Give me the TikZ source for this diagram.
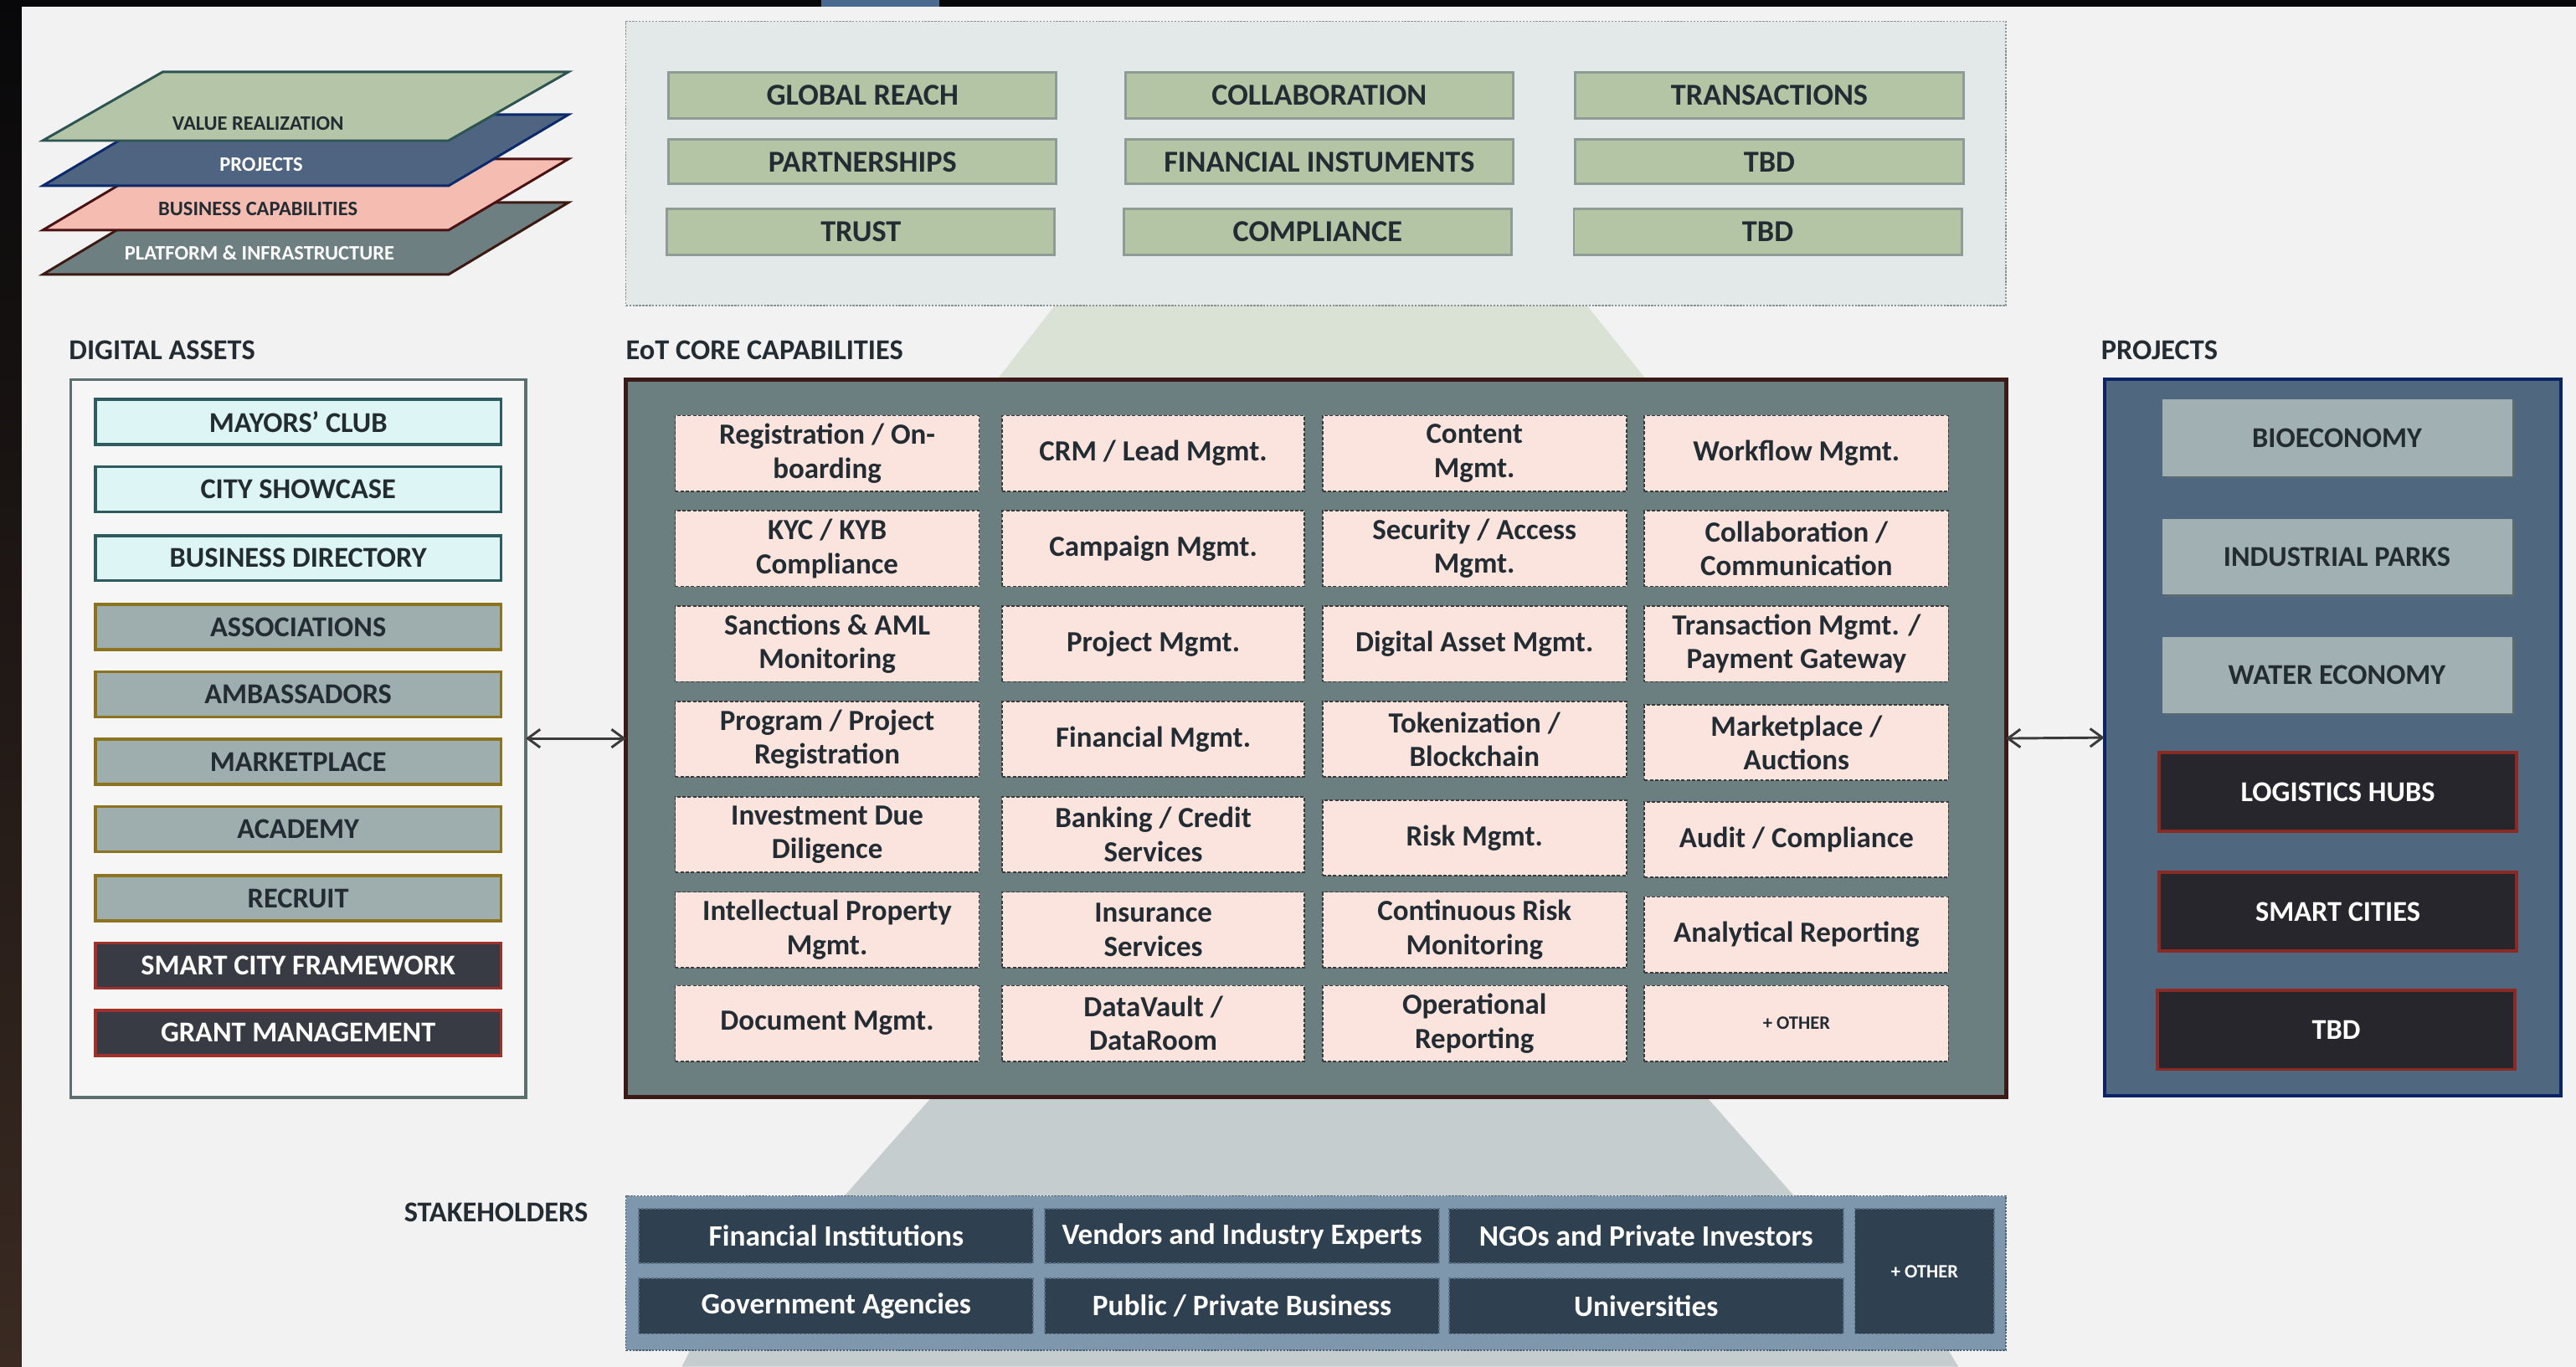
\documentclass[tikz,border=0pt]{standalone}
\usepackage{fontspec}
\setmainfont{Carlito}
\usetikzlibrary{arrows.meta,shadows}
\newcommand\fs[2]{\fontsize{#1}{#2}\selectfont}
\definecolor{bgl}{HTML}{F3F2F2}
\definecolor{darka}{HTML}{08080A}
\definecolor{darkb}{HTML}{3A2A22}
\definecolor{topblue}{HTML}{4A6A90}
\definecolor{txtd}{HTML}{232C33}
\definecolor{vrfill}{HTML}{B4C6A7}
\definecolor{vrdraw}{HTML}{2E5452}
\definecolor{prfill}{HTML}{4F6480}
\definecolor{prdraw}{HTML}{0B2A6B}
\definecolor{bcfill}{HTML}{F5BDB2}
\definecolor{bcdraw}{HTML}{4A1212}
\definecolor{plfill}{HTML}{6D7F80}
\definecolor{pldraw}{HTML}{3C1A14}
\definecolor{topfill}{HTML}{E3E8E8}
\definecolor{topdash}{HTML}{8A9292}
\definecolor{gfill}{HTML}{B4C5A6}
\definecolor{gdraw}{HTML}{8F9C95}
\definecolor{trapg}{HTML}{D9E2D5}
\definecolor{trapb}{HTML}{C5CDCE}
\definecolor{dafill}{HTML}{F6F6F6}
\definecolor{dadraw}{HTML}{5C6E6E}
\definecolor{cyfill}{HTML}{DDF5F5}
\definecolor{cydraw}{HTML}{2E5B5E}
\definecolor{gyfill}{HTML}{9EADAE}
\definecolor{gydraw}{HTML}{8B7320}
\definecolor{dkfill}{HTML}{383B43}
\definecolor{rddraw}{HTML}{A0302A}
\definecolor{corefill}{HTML}{6B7E80}
\definecolor{coredraw}{HTML}{3B1A18}
\definecolor{cellfill}{HTML}{FCE4DE}
\definecolor{celldash}{HTML}{3A3A3A}
\definecolor{pjfill}{HTML}{506780}
\definecolor{pjdraw}{HTML}{0B2466}
\definecolor{ltfill}{HTML}{A1B0B3}
\definecolor{ltshadow}{HTML}{5E6B6E}
\definecolor{pjdark}{HTML}{26262C}
\definecolor{pjred}{HTML}{8B2A22}
\definecolor{stfill}{HTML}{7F97AD}
\definecolor{stdash}{HTML}{4C6378}
\definecolor{stcell}{HTML}{2F4050}
\definecolor{stcelld}{HTML}{5A7085}
\definecolor{arrowc}{HTML}{3A3A3A}
\newcommand\bx[7]{%
  \pgfmathsetmacro\cxv{(#2+#4)/2}\pgfmathsetmacro\cyv{(#3+#5)/2}%
  \pgfmathsetmacro\wv{#4-#2}\pgfmathsetmacro\hv{#5-#3}%
  \node[#6, minimum width=\wv pt, minimum height=\hv pt] (#1) at (\cxv,\cyv) {#7};}
\tikzset{
  every node/.style={inner sep=0pt, outer sep=0pt},
  lbl/.style={anchor=west, text=txtd, font=\bfseries\fs{17.5}{20}},
  laytxt/.style={font=\bfseries\fs{12.5}{14}},
  topbox/.style={fill=topfill, draw=topdash, line width=0.8pt, dash pattern=on 1.2pt off 0.8pt},
  gbox/.style={fill=gfill, draw=gdraw, line width=1.5pt, text=txtd, font=\bfseries\fs{18.5}{21}},
  dabox/.style={fill=dafill, draw=dadraw, line width=1.8pt},
  cybox/.style={fill=cyfill, draw=cydraw, line width=1.8pt, text=txtd, font=\bfseries\fs{17.5}{20}},
  gybox/.style={fill=gyfill, draw=gydraw, line width=1.8pt, text=txtd, font=\bfseries\fs{17.5}{20}},
  dkbox/.style={fill=dkfill, draw=rddraw, line width=1.8pt, text=white, font=\bfseries\fs{17.5}{20}},
  corebox/.style={fill=corefill, draw=coredraw, line width=2.5pt},
  cell/.style={fill=cellfill, draw=celldash, line width=0.9pt, dash pattern=on 2pt off 1.2pt, text=txtd, align=center, font=\bfseries\fs{17.8}{20.5}},
  pjbox/.style={fill=pjfill, draw=pjdraw, line width=2pt},
  ltbox/.style={fill=ltfill, text=txtd, font=\bfseries\fs{17.5}{20}, drop shadow={shadow xshift=1.8pt, shadow yshift=-1.2pt, opacity=1, fill=ltshadow}},
  pdbox/.style={fill=pjdark, draw=pjred, line width=2pt, text=white, font=\bfseries\fs{17.5}{20}},
  stbox/.style={fill=stfill, draw=stdash, line width=0.8pt, dash pattern=on 1.2pt off 0.8pt},
  stc/.style={fill=stcell, draw=stcelld, line width=0.9pt, dash pattern=on 1.5pt off 1pt, text=white, align=center, font=\bfseries\fs{18}{20.5}},
  dblarrow/.style={draw=arrowc, line width=1.5pt, {Straight Barb[length=7.5pt,width=11pt]}-{Straight Barb[length=7.5pt,width=11pt]}},
}
\begin{document}
\begin{tikzpicture}[x=1pt,y=-1pt]
\useasboundingbox (0,0) rectangle (1568,832);
% background
\shade[top color=darka, bottom color=darkb] (0,0) rectangle (1568,832);
\fill[bgl] (13,4) rectangle (1568,832);
\fill[topblue] (500,0) rectangle (572,4);
% layers (bottom first)
\draw[fill=plfill, draw=pldraw, line width=1.5pt] (26,167.1) -- (99,123.3) -- (346,123.3) -- (273,167.1) -- cycle;
\draw[fill=bcfill, draw=bcdraw, line width=1.5pt] (26,140.1) -- (99,96.8) -- (346,96.8) -- (273,140.1) -- cycle;
\draw[fill=prfill, draw=prdraw, line width=1.5pt] (26,113.1) -- (99,69.8) -- (346,69.8) -- (273,113.1) -- cycle;
\draw[fill=vrfill, draw=vrdraw, line width=1.5pt] (26,85.6) -- (99,43.8) -- (346,43.8) -- (273,85.6) -- cycle;
\node[laytxt, text=txtd] (lay1) at (157,75) {VALUE REALIZATION};
\node[laytxt, text=white] (lay2) at (159,100) {PROJECTS};
\node[laytxt, text=txtd] (lay3) at (157,127) {BUSINESS CAPABILITIES};
\node[laytxt, text=white] (lay4) at (158,154) {PLATFORM \& INFRASTRUCTURE};
% trapezoids
\fill[trapg] (642,186) -- (966,186) -- (1002,231) -- (607,231) -- cycle;
\fill[trapb] (567,668) -- (1039,668) -- (1092,728) -- (514,728) -- cycle;
\fill[trapb] (420,822) -- (1186,822) -- (1192,832) -- (415,832) -- cycle;
% top box
\bx{top}{381}{13}{1221}{186}{topbox}{}
\bx{g11}{407}{44}{643}{72}{gbox}{GLOBAL REACH}
\bx{g12}{685}{44}{921}{72}{gbox}{COLLABORATION}
\bx{g13}{959}{44}{1195}{72}{gbox}{TRANSACTIONS}
\bx{g21}{407}{85}{643}{112}{gbox}{PARTNERSHIPS}
\bx{g22}{685}{85}{921}{112}{gbox}{FINANCIAL INSTUMENTS}
\bx{g23}{959}{85}{1195}{112}{gbox}{TBD}
\bx{g31}{406}{127}{642}{155}{gbox}{TRUST}
\bx{g32}{684}{127}{920}{155}{gbox}{COMPLIANCE}
\bx{g33}{958}{127}{1194}{155}{gbox}{TBD}
% labels
\node[lbl] (lda) at (42,213) {DIGITAL ASSETS};
\node[lbl] (lcore) at (381,213) {EoT CORE CAPABILITIES};
\node[lbl] (lpj) at (1279,213) {PROJECTS};
\node[lbl] (lst) at (246,738) {STAKEHOLDERS};
% digital assets
\bx{da}{43}{231}{320}{668}{dabox}{}
\bx{da1}{58}{243}{305}{270.5}{cybox}{MAYORS’ CLUB}
\bx{da2}{58}{284}{305}{311.5}{cybox}{CITY SHOWCASE}
\bx{da3}{58}{326}{305}{353.5}{cybox}{BUSINESS DIRECTORY}
\bx{da4}{58}{368}{305}{395.5}{gybox}{ASSOCIATIONS}
\bx{da5}{58}{409}{305}{436.5}{gybox}{AMBASSADORS}
\bx{da6}{58}{450}{305}{477.5}{gybox}{MARKETPLACE}
\bx{da7}{58}{491}{305}{518.5}{gybox}{ACADEMY}
\bx{da8}{58}{533}{305}{560.5}{gybox}{RECRUIT}
\bx{da9}{58}{574}{305}{601.5}{dkbox}{SMART CITY FRAMEWORK}
\bx{da10}{58}{615}{305}{642.5}{dkbox}{GRANT MANAGEMENT}
% core
\bx{core}{381}{231}{1221}{668}{corebox}{}
\bx{c11}{411}{253}{596}{299}{cell}{Registration / On-\\boarding}
\bx{c12}{610}{253}{794}{299}{cell}{CRM / Lead Mgmt.}
\bx{c13}{805}{253}{990}{299}{cell}{Content\\Mgmt.}
\bx{c14}{1001}{253}{1186}{299}{cell}{Workflow Mgmt.}
\bx{c21}{411}{311}{596}{357}{cell}{KYC / KYB\\Compliance}
\bx{c22}{610}{311}{794}{357}{cell}{Campaign Mgmt.}
\bx{c23}{805}{311}{990}{357}{cell}{Security / Access\\Mgmt.}
\bx{c24}{1001}{311}{1186}{357}{cell}{Collaboration /\\Communication}
\bx{c31}{411}{369}{596}{415}{cell}{Sanctions \& AML\\Monitoring}
\bx{c32}{610}{369}{794}{415}{cell}{Project Mgmt.}
\bx{c33}{805}{369}{990}{415}{cell}{Digital Asset Mgmt.}
\bx{c34}{1001}{369}{1186}{415}{cell}{Transaction Mgmt. /\\Payment Gateway}
\bx{c41}{411}{427}{596}{473}{cell}{Program / Project\\Registration}
\bx{c42}{610}{427}{794}{473}{cell}{Financial Mgmt.}
\bx{c43}{805}{427}{990}{473}{cell}{Tokenization /\\Blockchain}
\bx{c44}{1001}{429}{1186}{475}{cell}{Marketplace /\\Auctions}
\bx{c51}{411}{485}{596}{531}{cell}{Investment Due\\Diligence}
\bx{c52}{610}{485}{794}{531}{cell}{Banking / Credit\\Services}
\bx{c53}{805}{487}{990}{533}{cell}{Risk Mgmt.}
\bx{c54}{1001}{488}{1186}{534}{cell}{Audit / Compliance}
\bx{c61}{411}{543}{596}{589}{cell}{Intellectual Property\\Mgmt.}
\bx{c62}{610}{543}{794}{589}{cell}{Insurance\\Services}
\bx{c63}{805}{543}{990}{589}{cell}{Continuous Risk\\Monitoring}
\bx{c64}{1001}{546}{1186}{592}{cell}{Analytical Reporting}
\bx{c71}{411}{600}{596}{646}{cell}{Document Mgmt.}
\bx{c72}{610}{600}{794}{646}{cell}{DataVault /\\DataRoom}
\bx{c73}{805}{600}{990}{646}{cell}{Operational\\Reporting}
\bx{c74}{1001}{600}{1186}{646}{cell, font=\bfseries\fs{11.5}{13}}{+ OTHER}
% projects
\bx{proj}{1281}{231}{1559}{667}{pjbox}{}
\bx{p1}{1316}{243}{1529}{290}{ltbox}{BIOECONOMY}
\bx{p2}{1316}{316}{1529}{362}{ltbox}{INDUSTRIAL PARKS}
\bx{p3}{1316}{388}{1529}{434}{ltbox}{WATER ECONOMY}
\bx{p4}{1314}{458}{1532}{506}{pdbox}{LOGISTICS HUBS}
\bx{p5}{1314}{531}{1532}{579}{pdbox}{SMART CITIES}
\bx{p6}{1313}{603}{1531}{651}{pdbox}{TBD}
% stakeholders
\bx{st}{381}{728}{1221}{822}{stbox}{}
\bx{s11}{389}{736}{629}{769}{stc}{Financial Institutions}
\bx{s12}{636}{736}{876}{769}{stc}{Vendors and Industry Experts}
\bx{s13}{882}{736}{1122}{769}{stc}{NGOs and Private Investors}
\bx{s21}{389}{778}{629}{812}{stc}{Government Agencies}
\bx{s22}{636}{778}{876}{812}{stc}{Public / Private Business}
\bx{s23}{882}{778}{1122}{812}{stc}{Universities}
\bx{s14}{1129}{736}{1214}{812}{stc, font=\bfseries\fs{11.5}{13}}{+ OTHER}
% arrows
\draw[dblarrow] (da.east) -- (core.west);
\draw[dblarrow] (core.east) -- (proj.west);
\end{tikzpicture}
\end{document}
